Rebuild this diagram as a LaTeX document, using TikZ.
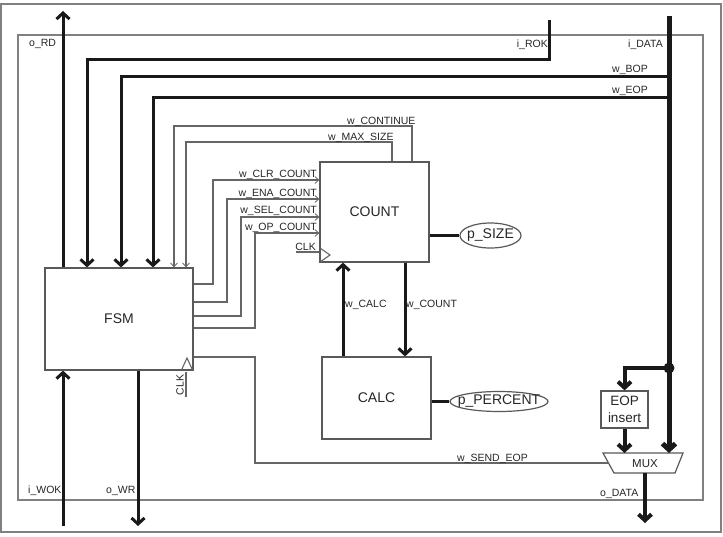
\documentclass[tikz,border=0pt]{standalone}
\usepackage{fontspec}
\setmainfont{Liberation Sans}
\usetikzlibrary{arrows.meta,shapes.geometric}
\begin{document}
\begin{tikzpicture}[x=1pt,y=-1pt,
  frame/.style={draw=black!50,line width=1.2pt},
  box/.style={draw=black!65,line width=1.2pt,fill=white,inner sep=0pt,text=black!85,font=\fontsize{14}{16}\selectfont},
  lbl/.style={font=\fontsize{10.5}{12}\selectfont,text=black!85,inner sep=0pt},
  sig/.style={line width=3pt,draw=black!90},
  bus/.style={line width=5pt,draw=black!90},
  wire/.style={line width=1.3pt,draw=black!60},
  bigarr/.style={-{Straight Barb[length=6pt,width=13pt]}},
  smallarr/.style={-{Straight Barb[length=4pt,width=7pt,line width=0.8pt]}},
  pill/.style={ellipse,draw=black!65,line width=1.2pt,inner sep=0pt,text=black!85,font=\fontsize{14}{16}\selectfont}
]
\useasboundingbox (0,0) rectangle (723,536);
% frames
\draw[frame] (1,4) rectangle (721,532);
\draw[frame] (18,35) rectangle (703,500);

% blocks
\node[box,minimum width=148pt,minimum height=102pt] (fsm) at (119,319) {FSM};
\node[box,minimum width=109pt,minimum height=100pt] (count) at (374.5,212) {COUNT};
\node[box,minimum width=109pt,minimum height=82pt] (calc) at (376.5,398) {CALC};
\node[box,minimum width=47pt,minimum height=37pt,align=center,font=\fontsize{13.5}{17}\selectfont] (eop) at (624.5,409.5) {EOP\\insert};
\node[pill,minimum width=61pt,minimum height=25pt] (psize) at (490.5,235.5) {\makebox[0pt]{p\_SIZE}};
\node[pill,minimum width=98pt,minimum height=20pt] (pperc) at (499,401.5) {\makebox[0pt]{p\_PERCENT}};

% MUX
\coordinate (muxtl) at (603,453);
\coordinate (muxtr) at (683,453);
\coordinate (muxbr) at (675,473);
\coordinate (muxbl) at (614,473);
\draw[box] (muxtl) -- (muxtr) -- (muxbr) -- (muxbl) -- cycle;
\node[lbl,font=\fontsize{11.5}{13}\selectfont] (mux) at (645,464) {MUX};

% clocks
\draw[wire,line width=1.1pt] (320,248) -- (330,255) -- (320,262);
\draw[wire,line width=1.1pt] (296,252) -- (count.west |- 0,252);
\node[lbl,anchor=base east] (clkc) at (316,250) {CLK};
\draw[wire,line width=1.1pt] (181,371) -- (187,358) -- (193,371);
\draw[wire,line width=1.1pt] (186,372) -- (186,397);
\node[lbl,rotate=90] (clkf) at (180,385) {CLK};

% coordinates
\coordinate (rdtop) at (63,11);
\coordinate (rok1) at (549,20);
\coordinate (rok2) at (87,59);
\coordinate (datatop) at (669,16);
\coordinate (datajn) at (669,368);
\coordinate (bop) at (121,76);
\coordinate (eopw) at (153,97);
\coordinate (cont1) at (412,126);
\coordinate (cont2) at (174,126);
\coordinate (max1) at (392,142);
\coordinate (max2) at (186,142);
\coordinate (clrA) at (213,284); \coordinate (clrB) at (213,180);
\coordinate (enaA) at (227,302); \coordinate (enaB) at (227,199);
\coordinate (selA) at (241,316); \coordinate (selB) at (241,217);
\coordinate (opA) at (255,328);  \coordinate (opB) at (255,233);
\coordinate (sendA) at (255,357); \coordinate (sendB) at (255,463);
\coordinate (muxl) at (608.5,463);
\coordinate (xcalc) at (343,300);
\coordinate (xcount) at (405,300);
\coordinate (wokbot) at (63,526);
\coordinate (wrbot) at (138,526);
\coordinate (muxin) at (669,453);
\coordinate (muxeop) at (624.5,453);
\coordinate (muxout) at (645,473);
\coordinate (odata) at (645,523);

% thick signals
\draw[sig,bigarr] (fsm.north -| rdtop) -- (rdtop);
\draw[sig,bigarr] (rok1) |- (rok2) -- (fsm.north -| rok2);
\draw[sig,bigarr] (datatop |- bop) -- (bop) -- (fsm.north -| bop);
\draw[sig,bigarr] (datatop |- eopw) -- (eopw) -- (fsm.north -| eopw);
\draw[bus,bigarr] (datatop) -- (muxin);
\fill[black!90] (datajn) circle (5.5);
\draw[sig,line width=4pt,bigarr] (datajn) -| (eop.north);
\draw[sig,line width=4pt,bigarr] (eop.south) -- (muxeop);
\draw[sig,line width=4pt,bigarr] (muxout) -- (odata);
\draw[sig,bigarr] (wokbot) -- (fsm.south -| wokbot);
\draw[sig,bigarr] (fsm.south -| wrbot) -- (wrbot);
\draw[sig,bigarr] (calc.north -| xcalc) -- (count.south -| xcalc);
\draw[sig,bigarr] (count.south -| xcount) -- (calc.north -| xcount);
\draw[sig] (count.east |- psize) -- (psize.west);
\draw[sig] (calc.east |- pperc) -- (pperc.west);

% thin wires
\draw[wire,smallarr] (count.north -| cont1) -- (cont1) -- (cont2) -- (fsm.north -| cont2);
\draw[wire,smallarr] (count.north -| max1) -- (max1) -- (max2) -- (fsm.north -| max2);
\draw[wire,smallarr] (fsm.east |- clrA) -- (clrA) -- (clrB) -- (count.west |- clrB);
\draw[wire,smallarr] (fsm.east |- enaA) -- (enaA) -- (enaB) -- (count.west |- enaB);
\draw[wire,smallarr] (fsm.east |- selA) -- (selA) -- (selB) -- (count.west |- selB);
\draw[wire,smallarr] (fsm.east |- opA) -- (opA) -- (opB) -- (count.west |- opB);
\draw[wire] (fsm.east |- sendA) -- (sendA) -- (sendB) -- (muxl);

% labels
\node[lbl,anchor=base west] (lrd) at (29,46) {o\_RD};
\node[lbl,anchor=base east] (lrok) at (548,47) {i\_ROK};
\node[lbl,anchor=base east] (ldata) at (663,47) {i\_DATA};
\node[lbl,anchor=base west] (lbop) at (612,72) {w\_BOP};
\node[lbl,anchor=base west] (leop) at (612,93) {w\_EOP};
\node[lbl,anchor=base west] (lcont) at (347,124) {w\_CONTINUE};
\node[lbl,anchor=base west] (lmax) at (328,140) {w\_MAX\_SIZE};
\node[lbl,anchor=base east] (lclr) at (317,177) {w\_CLR\_COUNT};
\node[lbl,anchor=base east] (lena) at (317,196) {w\_ENA\_COUNT};
\node[lbl,anchor=base east] (lsel) at (317,213) {w\_SEL\_COUNT};
\node[lbl,anchor=base east] (lop) at (317,230) {w\_OP\_COUNT};
\node[lbl,anchor=base west] (lcalc) at (345,307) {w\_CALC};
\node[lbl,anchor=base west] (lcount) at (406,307) {w\_COUNT};
\node[lbl,anchor=base west] (lsend) at (457,461) {w\_SEND\_EOP};
\node[lbl,anchor=base west] (lwok) at (28,493) {i\_WOK};
\node[lbl,anchor=base west] (lwr) at (106,493) {o\_WR};
\node[lbl,anchor=base west] (lodata) at (600,496) {o\_DATA};
\end{tikzpicture}
\end{document}
